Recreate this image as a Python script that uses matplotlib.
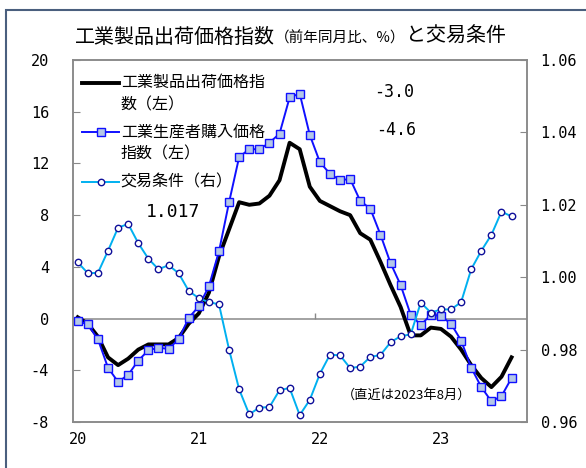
import matplotlib
matplotlib.use("Agg")
import matplotlib.pyplot as plt
from matplotlib.lines import Line2D
from matplotlib.patches import Rectangle

plt.rcParams['font.family'] = ['Noto Sans CJK JP', 'DejaVu Sans']

# monthly data, Jan 2020 .. Aug 2023
output_price = [0.1, -0.4, -1.4, -3.0, -3.6, -3.1, -2.4, -2.0, -2.0, -2.0, -1.5, -0.4,
                0.4, 2.0, 4.8, 6.9, 9.0, 8.8, 8.9, 9.5, 10.7, 13.6, 13.1, 10.2,
                9.1, 8.7, 8.3, 8.0, 6.6, 6.1, 4.4, 2.6, 0.9, -1.3, -1.3, -0.7,
                -0.8, -1.4, -2.4, -3.6, -4.6, -5.3, -4.5, -3.0]
input_price = [-0.2, -0.45, -1.6, -3.8, -4.9, -4.35, -3.25, -2.45, -2.25, -2.35, -1.6, 0.05,
               0.95, 2.5, 5.2, 9.0, 12.5, 13.1, 13.1, 13.6, 14.3, 17.1, 17.4, 14.2,
               12.1, 11.2, 10.7, 10.8, 9.1, 8.5, 6.5, 4.3, 2.6, 0.3, -0.5, 0.3,
               0.2, -0.4, -1.7, -3.8, -5.3, -6.4, -6.0, -4.6]
terms_of_trade = [1.0041, 1.0011, 1.0012, 1.0073, 1.0137, 1.0147, 1.0094, 1.0051, 1.0022, 1.0033, 1.0011, 0.9962,
                  0.9942, 0.9931, 0.9925, 0.9800, 0.9690, 0.9621, 0.9640, 0.9641, 0.9688, 0.9694, 0.9619, 0.9661,
                  0.9733, 0.9786, 0.9784, 0.9749, 0.9753, 0.9780, 0.9785, 0.9820, 0.9837, 0.9842, 0.9930, 0.9902,
                  0.9911, 0.9911, 0.9931, 1.0022, 1.0073, 1.0117, 1.0181, 1.0168]
year_labels = ["20", "21", "22", "23"]
left_ticks = [-8, -4, 0, 4, 8, 12, 16, 20]
right_ticks = [0.96, 0.98, 1.00, 1.02, 1.04, 1.06]

GRAY = "#898989"
BLUE = "#1010ff"
CYAN = "#00b0f0"
NUM_FONT = "DejaVu Sans Mono"   # stands in for the fixed-width digits of the original

fig = plt.figure(figsize=(5.86, 4.68), dpi=100)
ax = fig.add_axes([72.7 / 586, 1 - 422 / 468, 454 / 586, 362 / 468])
ax2 = ax.twinx()

x = list(range(len(output_price)))
ax.plot(x, output_price, color="black", lw=2.8, zorder=3, solid_joinstyle="round")
ax.plot(x, input_price, color=BLUE, lw=1.4, marker="s", ms=5.5, mfc="#b4c7e7",
        mec=BLUE, mew=1.0, zorder=4)
ax2.plot(x, terms_of_trade, color=CYAN, lw=1.4, marker="o", ms=4.6, mfc="white",
         mec="#10109a", mew=1.0, zorder=5)

ax.set_xlim(-0.5, 44.5)
ax.set_ylim(-8, 20)
ax2.set_ylim(0.96, 1.06)

ax.axhline(0, color=GRAY, lw=1.1, zorder=1)
ax.vlines([11.5, 23.5, 35.5], 0, 0.4, color=GRAY, lw=1.0, zorder=1)

ax.set_xticks([0, 12, 24, 36])
ax.set_xticklabels(year_labels, family=NUM_FONT)
ax.tick_params(axis="x", length=0, pad=7, labelsize=11)
ax.set_yticks(left_ticks)
ax.set_yticklabels([str(v) for v in left_ticks], family=NUM_FONT)
ax.tick_params(axis="y", direction="in", length=5, color=GRAY, pad=17, labelsize=11)
ax2.set_yticks(right_ticks)
ax2.set_yticklabels(["%.2f" % v for v in right_ticks], family=NUM_FONT)
ax2.tick_params(axis="y", direction="in", length=5, color=GRAY, pad=10, labelsize=11)
for a in (ax, ax2):
    for s in a.spines.values():
        s.set_color(GRAY)
        s.set_linewidth(1.1)

# legend drawn by hand so the handle sits on the first text line
tr = ax.transAxes
leg_x0, leg_x1, leg_tx = 0.0205, 0.102, 0.106
LEG_FS = 11.5
ax.add_line(Line2D([leg_x0, leg_x1], [0.937, 0.937], transform=tr, color="black", lw=2.8))
ax.text(leg_tx, 0.937, "工業製品出荷価格指", transform=tr, va="center", fontsize=LEG_FS)
ax.text(leg_tx, 0.876, "数（左）", transform=tr, va="center", fontsize=LEG_FS)
ax.add_line(Line2D([leg_x0, leg_x1], [0.802, 0.802], transform=tr, color=BLUE, lw=1.4))
ax.add_line(Line2D([(leg_x0 + leg_x1) / 2], [0.802], transform=tr, marker="s", ms=5.5,
                   mfc="#b4c7e7", mec=BLUE, mew=1.0, ls="none"))
ax.text(leg_tx, 0.802, "工業生産者購入価格", transform=tr, va="center", fontsize=LEG_FS)
ax.text(leg_tx, 0.740, "指数（左）", transform=tr, va="center", fontsize=LEG_FS)
ax.add_line(Line2D([leg_x0, leg_x1], [0.664, 0.664], transform=tr, color=CYAN, lw=1.4))
ax.add_line(Line2D([(leg_x0 + leg_x1) / 2], [0.664], transform=tr, marker="o", ms=4.6,
                   mfc="white", mec="#10109a", mew=1.0, ls="none"))
ax.text(leg_tx, 0.664, "交易条件（右）", transform=tr, va="center", fontsize=LEG_FS)

# value labels
ax.text(0.161, 0.581, "1.017", transform=tr, va="center", fontsize=13, family=NUM_FONT)
ax.text(0.664, 0.912, "-3.0", transform=tr, va="center", fontsize=12, family=NUM_FONT)
ax.text(0.668, 0.808, "-4.6", transform=tr, va="center", fontsize=12, family=NUM_FONT)
ax.text(0.735, 0.0746, "（直近は2023年8月）", transform=tr, ha="center", va="center", fontsize=9.5)

# title in three pieces of different size, each chained to the one before
t1 = fig.text(75 / 586, 1 - 37 / 468, "工業製品出荷価格指数", fontsize=14.4, va="center")
t2 = ax.annotate("（前年同月比、%）", xy=(1, 0.08), xycoords=t1, va="bottom", ha="left",
                 fontsize=10.5, annotation_clip=False)
t3 = ax.annotate("と交易条件", xy=(1, 0), xycoords=t2, va="bottom", ha="left",
                 fontsize=14.4, annotation_clip=False)

# outer frame, partly outside the image
fig.patches.append(Rectangle((6 / 586, -0.2), 2.0, 1.2 - 10.4 / 468, transform=fig.transFigure,
                             fill=False, edgecolor="#4a5f7e", lw=1.5))

fig.savefig("out.png", dpi=100)
